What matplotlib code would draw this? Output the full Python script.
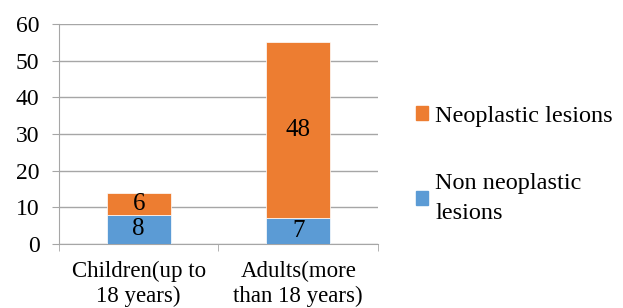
import matplotlib.pyplot as plt
from matplotlib.patches import Patch

categories = ['Children(up to\n18 years)', 'Adults(more\nthan 18 years)']
non_neoplastic = [8, 7]
neoplastic = [6, 48]

blue = '#5B9BD5'
orange = '#ED7D31'
grid_col = '#A6A6A6'

plt.rcParams['font.family'] = ['Liberation Serif', 'DejaVu Serif']

fig = plt.figure(figsize=(6.23, 3.08), dpi=100)
ax = fig.add_axes([0.0947, 0.2078, 0.512, 0.7142])

x = list(range(len(categories)))
ax.bar(x, non_neoplastic, width=0.4, color=blue, edgecolor='white', linewidth=0.5, zorder=3)
ax.bar(x, neoplastic, width=0.4, bottom=non_neoplastic, color=orange,
       edgecolor='white', linewidth=0.5, zorder=3)

for i in x:
    ax.text(i, non_neoplastic[i] / 2, str(non_neoplastic[i]), ha='center', va='center',
            fontsize=18, zorder=4)
    ax.text(i, non_neoplastic[i] + neoplastic[i] / 2, str(neoplastic[i]), ha='center',
            va='center', fontsize=18, zorder=4)

ax.set_xlim(-0.5, 1.5)
ax.set_ylim(0, 60)
ax.set_yticks(range(0, 61, 10))
ax.yaxis.grid(True, color=grid_col, linewidth=1, zorder=0)
ax.set_xticks(x)
ax.set_xticklabels(categories, fontsize=16.5, linespacing=1.25)
ax.set_xticks([-0.5, 0.5, 1.5], minor=True)
ax.tick_params(axis='x', which='major', length=0, pad=12)
ax.tick_params(axis='x', which='minor', length=5, color=grid_col)
ax.tick_params(axis='y', length=5, color=grid_col, labelsize=17, pad=9)

for s in ['top', 'right']:
    ax.spines[s].set_visible(False)
ax.spines['left'].set_color(grid_col)
ax.spines['bottom'].set_color(grid_col)

handles = [Patch(color=orange), Patch(color=blue)]
leg = fig.legend(handles, ['Neoplastic lesions', 'Non neoplastic\nlesions'],
                 loc='center left', bbox_to_anchor=(0.652, 0.465), frameon=False,
                 fontsize=17.5, handlelength=0.5, handleheight=0.5, handletextpad=0.3,
                 labelspacing=1.9, borderaxespad=0)
for t in leg.get_texts():
    t.set_linespacing(1.55)

fig.savefig('out.png', dpi=100)
